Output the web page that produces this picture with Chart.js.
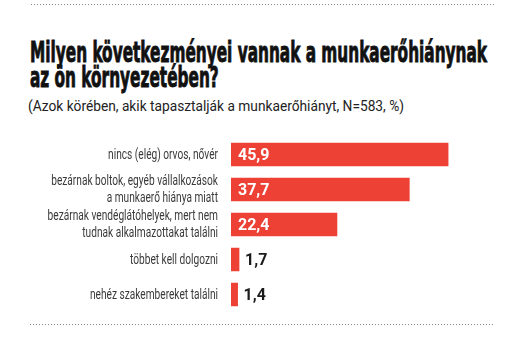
<!DOCTYPE html>
<html>
<head>
<meta charset="utf-8">
<script src="https://cdn.jsdelivr.net/npm/chart.js@4/dist/chart.umd.min.js"></script>
<style>
  html, body { margin: 0; padding: 0; background: #fff; }
  #wrap { position: relative; width: 510px; height: 353px; overflow: hidden; }
  #chart { position: absolute; left: 0; top: 0; }
  .dots { position: absolute; height: 1px; background: repeating-linear-gradient(to right, #8a8a8a 0 1px, transparent 1px 3px); }
  .fit { position: absolute; white-space: nowrap; transform-origin: 0 0; }
  #title { left: 30px; top: 40px; font-family: "DejaVu Sans Condensed", "DejaVu Sans", sans-serif; font-weight: bold; font-size: 28px; line-height: 25px; color: #111; -webkit-text-stroke: 0.9px #111; }
  #subtitle { left: 28px; top: 97px; font-family: Roboto, sans-serif; font-size: 15.5px; line-height: 18px; color: #222; }
</style>
</head>
<body>
<div id="wrap">
  <div class="dots" style="left:31px; top:4px; width:463px;"></div>
  <div id="title" class="fit" data-w="457">Milyen következményei vannak a munkaerőhiánynak<br>az ön környezetében?</div>
  <div id="subtitle" class="fit" data-w="376">(Azok körében, akik tapasztalják a munkaerőhiányt, N=583, %)</div>
  <canvas id="chart" width="510" height="353"></canvas>
  <div class="dots" style="left:30px; top:324px; width:464px;"></div>
</div>
<script>
const categories = [
  ["nincs (elég) orvos, nővér"],
  ["bezárnak boltok, egyéb vállalkozások", "a munkaerő hiánya miatt"],
  ["bezárnak vendéglátóhelyek, mert nem", "tudnak alkalmazottakat találni"],
  ["többet kell dolgozni"],
  ["nehéz szakembereket találni"]
];
const values = [45.9, 37.7, 22.4, 1.7, 1.4];
const valueLabels = values.map(v => v.toFixed(1).replace(".", ","));

// squeeze the heading text to the width it has in the original
document.querySelectorAll(".fit").forEach(el => {
  const lines = el.innerHTML.split("<br>");
  const probe = document.createElement("span");
  probe.style.cssText = "position:absolute;visibility:hidden;white-space:nowrap;font:inherit";
  el.appendChild(probe);
  probe.textContent = lines[0];
  const w = probe.getBoundingClientRect().width;
  el.removeChild(probe);
  el.style.transform = "scaleX(" + (Number(el.dataset.w) / w) + ")";
});

// category names in a condensed look, placed on the y scale's own pixels
const categoryNames = {
  id: "categoryNames",
  afterDatasetsDraw(chart) {
    const ctx = chart.ctx;
    const yScale = chart.scales.y;
    const right = chart.chartArea.left - 13;
    const lineH = 17;
    ctx.save();
    ctx.font = "14.5px Roboto, sans-serif";
    ctx.fillStyle = "#3a3a3a";
    ctx.textAlign = "right";
    ctx.textBaseline = "middle";
    categories.forEach((lines, i) => {
      const y0 = yScale.getPixelForValue(i) - (lines.length - 1) * lineH / 2;
      lines.forEach((line, j) => {
        ctx.save();
        ctx.translate(right, y0 + j * lineH + 0.5);
        ctx.scale(0.70, 1);
        ctx.fillText(line, 0, 0);
        ctx.restore();
      });
    });
    ctx.restore();
  }
};

const barLabels = {
  id: "barLabels",
  afterDatasetsDraw(chart) {
    const ctx = chart.ctx;
    const meta = chart.getDatasetMeta(0);
    ctx.save();
    ctx.font = "bold 16px Roboto, sans-serif";
    ctx.textBaseline = "middle";
    ctx.textAlign = "left";
    meta.data.forEach((bar, i) => {
      if (values[i] >= 10) {
        ctx.fillStyle = "#ffffff";
        ctx.fillText(valueLabels[i], bar.base + 7, bar.y + 1);
      } else {
        ctx.fillStyle = "#1a1a1a";
        ctx.fillText(valueLabels[i], bar.x + 6, bar.y + 1);
      }
    });
    ctx.restore();
  }
};

new Chart(document.getElementById("chart"), {
  type: "bar",
  data: {
    labels: categories,
    datasets: [{
      data: values,
      backgroundColor: "#ee4136",
      borderWidth: 0,
      barThickness: 23
    }]
  },
  options: {
    indexAxis: "y",
    responsive: false,
    animation: false,
    layout: { padding: { left: 0, right: 42.5, top: 137, bottom: 41 } },
    scales: {
      x: { display: false, min: 0, max: 50 },
      y: {
        grid: { display: false, drawTicks: false },
        border: { display: false },
        afterFit: (scale) => { scale.width = 231; },
        ticks: { display: false, autoSkip: false }
      }
    },
    plugins: {
      legend: { display: false },
      tooltip: { enabled: false }
    }
  },
  plugins: [categoryNames, barLabels]
});
</script>
</body>
</html>
